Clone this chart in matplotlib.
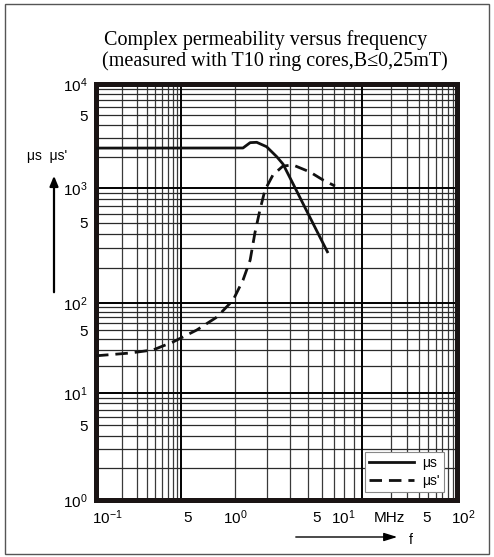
import numpy as np
import matplotlib
matplotlib.use('Agg')
import matplotlib.pyplot as plt
from matplotlib.patches import Rectangle
from matplotlib.lines import Line2D

plt.rcParams['font.family'] = ['Liberation Sans', 'DejaVu Sans']
plt.rcParams['mathtext.fontset'] = 'custom'
plt.rcParams['mathtext.rm'] = 'Liberation Sans'
plt.rcParams['mathtext.it'] = 'Liberation Sans:italic'

# data (frequency in MHz)
f_us = [0.1, 2.2, 2.41, 2.62, 2.97, 3.38, 3.66, 4.16, 4.95, 5.62, 6.49]
us = [2420, 2425, 2730, 2750, 2495, 2000, 1700, 1097, 631, 425, 272]

f_us2 = [0.1, 0.251, 0.469, 0.805, 1.22, 1.58, 1.94, 2.2, 2.41, 2.56, 2.73,
         2.91, 3.22, 3.66, 4.16, 5.16, 6.09, 7.09]
us2 = [25.9, 27.8, 30.1, 36.9, 50, 69.8, 106, 158, 236, 406, 644,
       960, 1334, 1627, 1664, 1425, 1194, 1045]

x_labels = ['$\\mathregular{10^{-1}}$', '5', '$\\mathregular{10^{0}}$', '5',
            '$\\mathregular{10^{1}}$', 'MHz', '5', '$\\mathregular{10^{2}}$']
y_ticks = [1, 5, 10, 50, 100, 500, 1000, 5000, 10000]
y_labels = ['$\\mathregular{10^{0}}$', '5', '$\\mathregular{10^{1}}$', '5',
            '$\\mathregular{10^{2}}$', '5', '$\\mathregular{10^{3}}$', '5',
            '$\\mathregular{10^{4}}$']

# the printed grid is not evenly spaced per decade
xd = [-1, 0, 1, 2]
xp = [0, 85, 266, 361]
yd = [0, 1, 2, 3, 4]
yp = [0, 107, 197, 312, 416]


def fx(v):
    return np.interp(np.log10(np.clip(v, 1e-12, None)), xd, xp)


def fx_inv(p):
    return 10 ** np.interp(p, xp, xd)


def fy(v):
    return np.interp(np.log10(np.clip(v, 1e-12, None)), yd, yp)


def fy_inv(p):
    return 10 ** np.interp(p, yp, yd)


W, H = 494, 557
fig = plt.figure(figsize=(W / 100, H / 100), dpi=100)
ax = fig.add_axes([96 / W, 1 - 500 / H, 361 / W, 416 / H])
ax.set_xscale('function', functions=(fx, fx_inv))
ax.set_yscale('function', functions=(fy, fy_inv))
ax.set_xlim(0.1, 100)
ax.set_ylim(1, 10000)

# grid
xminor = [k * 10.0 ** d for d in (-1, 0, 1) for k in range(2, 10)]
yminor = [k * 10.0 ** d for d in (0, 1, 2, 3) for k in range(2, 10)]
for v in xminor:
    ax.axvline(v, color='#3a3a3a', lw=0.9, zorder=1)
for v in yminor:
    ax.axhline(v, color='#2a2a2a', lw=0.9, zorder=1)
for v in (1, 10):
    ax.axvline(v, color='black', lw=1.4, zorder=1)
for v in (10, 100, 1000):
    ax.axhline(v, color='black', lw=1.4, zorder=1)

ax.plot(f_us, us, color='#111111', lw=2.0, zorder=3, solid_capstyle='butt')
ax.plot(f_us2, us2, color='#111111', lw=2.0, ls=(0, (4.5, 2.5)), zorder=3)

for s in ax.spines.values():
    s.set_linewidth(3.6)
    s.set_color('#1a1414')

ax.set_xticks([])
ax.set_yticks(y_ticks)
ax.set_yticklabels(y_labels, fontsize=11)
ax.tick_params(axis='y', length=0, pad=6)
ax.minorticks_off()

xpos = [107, 188, 235, 317, 343, 389, 427, 463]
for xx, lab in zip(xpos, x_labels):
    fig.text(xx / W, 1 - 518 / H, lab, ha='center', va='center', fontsize=11)

leg_handles = [Line2D([], [], color='#111111', lw=2.0),
               Line2D([], [], color='#111111', lw=2.0, ls=(0, (4.5, 2.5)))]
leg = ax.legend(leg_handles, ['μs', "μs'"], loc='lower left',
                bbox_to_anchor=(0.745, 0.019), fontsize=10, frameon=True,
                fancybox=False, edgecolor='#888888', framealpha=1,
                handlelength=3.2, borderpad=0.3, labelspacing=0.3,
                handletextpad=0.6, borderaxespad=0)
leg.get_frame().set_linewidth(0.8)
leg.set_zorder(5)

fig.text(104 / W, 1 - 40 / H, 'Complex permeability versus frequency',
         ha='left', va='center', fontsize=14.5, family='Liberation Serif')
fig.text(102 / W, 1 - 61 / H, '(measured with T10 ring cores,B≤0,25mT)',
         ha='left', va='center', fontsize=14.5, family='Liberation Serif')

fig.text(27 / W, 1 - 156 / H, "μs  μs'", ha='left', va='center', fontsize=10)
fig.add_artist(matplotlib.patches.FancyArrowPatch(
    (54 / W, 1 - 295 / H), (54 / W, 1 - 173 / H), transform=fig.transFigure,
    arrowstyle='-|>,head_length=6,head_width=2.5', lw=1.6, color='black'))
fig.add_artist(matplotlib.patches.FancyArrowPatch(
    (293 / W, 1 - 537 / H), (400 / W, 1 - 537 / H), transform=fig.transFigure,
    arrowstyle='-|>,head_length=8,head_width=2.5', lw=1.0, color='black'))
fig.text(409 / W, 1 - 540 / H, 'f', ha='left', va='center', fontsize=10)

fig.patches.append(Rectangle((5 / W, 1 - 554 / H), 484 / W, 550 / H,
                             transform=fig.transFigure, fill=False,
                             edgecolor='#555555', lw=1.0))

fig.savefig('out.png', dpi=100)
